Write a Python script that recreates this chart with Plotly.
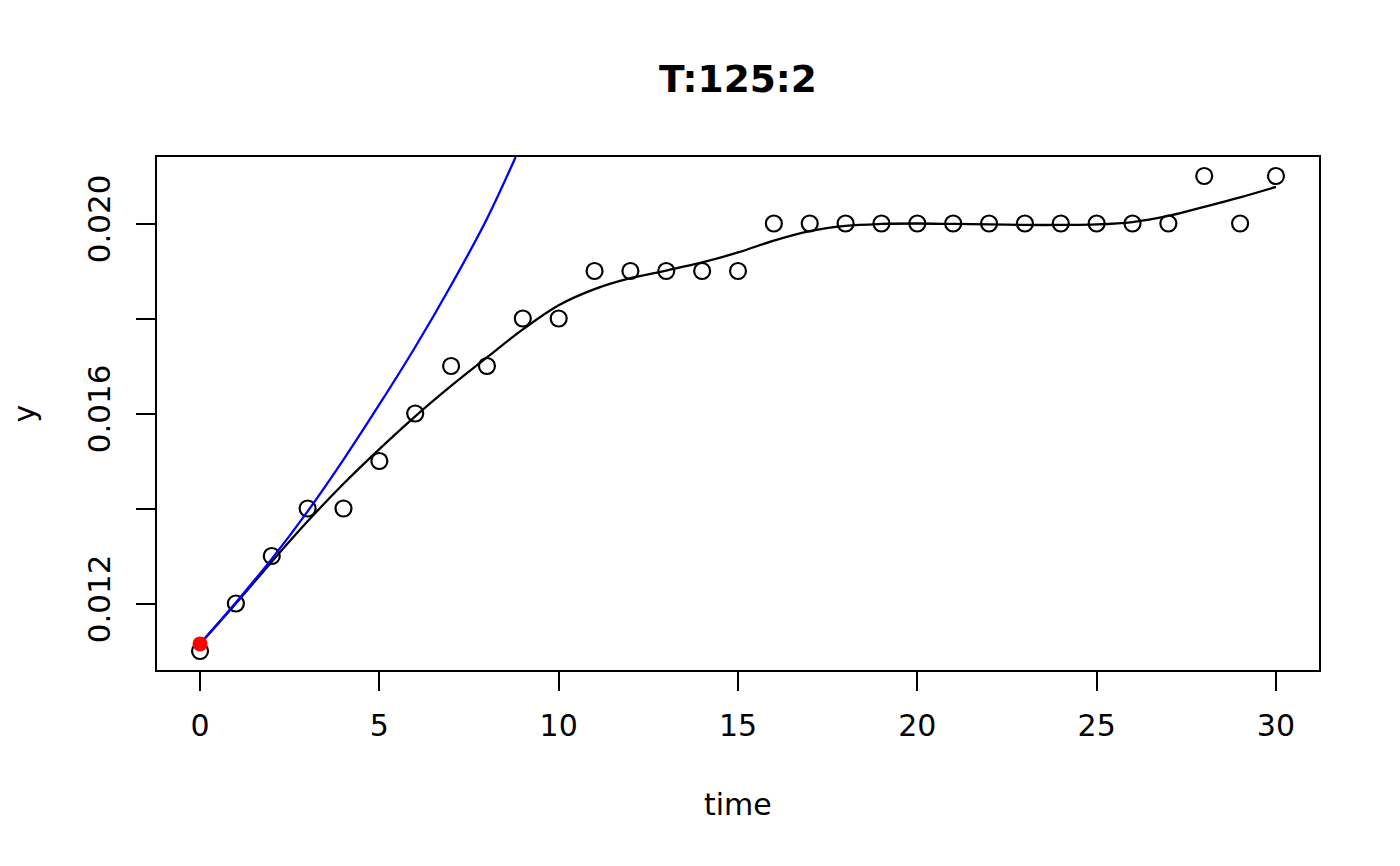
import plotly.graph_objects as go

# observed data
time = list(range(0, 31))
y_obs = [0.011, 0.012, 0.013, 0.014, 0.014, 0.015, 0.016, 0.017, 0.017, 0.018,
         0.018, 0.019, 0.019, 0.019, 0.019, 0.019, 0.020, 0.020, 0.020, 0.020,
         0.020, 0.020, 0.020, 0.020, 0.020, 0.020, 0.020, 0.020, 0.021, 0.020,
         0.021]

# smoothed fit (black line), read at each time point
smooth_t = list(range(0, 31))
smooth_y = [0.01115, 0.01200, 0.01288, 0.01373, 0.01452, 0.01525, 0.01594, 0.01658,
            0.01718, 0.01777, 0.01828, 0.01862, 0.01885, 0.01901, 0.01918, 0.01939,
            0.01964, 0.01984, 0.01995, 0.01999, 0.02000, 0.01999, 0.01998, 0.01997,
            0.01997, 0.01998, 0.02003, 0.02016, 0.02035, 0.02055, 0.02077]

# exponential growth curve (blue line)
exp_t = [0, 1, 2, 3, 4, 5, 6, 7, 8, 8.8]
exp_y = [0.01115, 0.01202, 0.01294, 0.01394, 0.01503, 0.01619, 0.01740, 0.01870,
         0.02010, 0.0214]

# start point (red)
start_t = [0]
start_y = [0.01115]

x_ticks = [0, 5, 10, 15, 20, 25, 30]
y_ticks = [0.012, 0.014, 0.016, 0.018, 0.020]
y_ticktext = ["0.012", "", "0.016", "", "0.020"]

FONT = "DejaVu Sans"
OFF = 8  # page body margin

fig = go.Figure()
fig.add_trace(go.Scatter(x=time, y=y_obs, mode="markers",
                         marker=dict(symbol="circle-open", size=16, color="black",
                                     line=dict(width=2.2, color="black")),
                         showlegend=False, hoverinfo="skip", cliponaxis=False))
fig.add_trace(go.Scatter(x=smooth_t, y=smooth_y, mode="lines",
                         line=dict(color="black", width=2.3, shape="spline", smoothing=1),
                         showlegend=False, hoverinfo="skip"))
fig.add_trace(go.Scatter(x=exp_t, y=exp_y, mode="lines",
                         line=dict(color="#0000FF", width=2.3, shape="spline", smoothing=1),
                         showlegend=False, hoverinfo="skip"))
fig.add_trace(go.Scatter(x=start_t, y=start_y, mode="markers",
                         marker=dict(symbol="circle", size=15, color="#FF0000"),
                         showlegend=False, hoverinfo="skip"))

fig.update_layout(
    width=1400, height=866,
    paper_bgcolor="white", plot_bgcolor="white",
    margin=dict(l=157 - OFF, r=1400 + OFF - 1319, t=157 - OFF, b=866 + OFF - 670),
    font=dict(family=FONT, size=29, color="black"),
    title=dict(text="<b>T:125:2</b>", x=(738 - OFF) / 1400, xanchor="center",
               y=1 - (79 - OFF) / 866, yanchor="middle", yref="container",
               font=dict(family=FONT, size=37.5, color="black")),
    xaxis=dict(range=[-1.2, 31.2], tickvals=x_ticks, ticks="outside", ticklen=19,
               tickwidth=2.2, tickcolor="black", showline=True, linecolor="black",
               linewidth=2.2, mirror=True, showgrid=False, zeroline=False,
               ticklabelstandoff=9,
               tickfont=dict(family=FONT, size=30)),
    yaxis=dict(range=[0.0106, 0.0214], tickvals=y_ticks, ticktext=y_ticktext,
               tickangle=-90, ticks="outside", ticklen=19, tickwidth=2.2,
               tickcolor="black", showline=True, linecolor="black", linewidth=2.2,
               mirror=True, showgrid=False, zeroline=False,
               ticklabelstandoff=14,
               tickfont=dict(family=FONT, size=31)),
    annotations=[
        dict(text="time", xref="paper", yref="paper", x=0.5, y=-(804 - 670) / 512.7,
             xanchor="center", yanchor="middle", showarrow=False,
             font=dict(family=FONT, size=30)),
        dict(text="y", xref="paper", yref="paper", x=-(157 - 24) / 1162, y=0.5,
             xanchor="center", yanchor="middle", textangle=-90, showarrow=False,
             font=dict(family=FONT, size=30)),
    ],
)

fig.write_html("out.html")
